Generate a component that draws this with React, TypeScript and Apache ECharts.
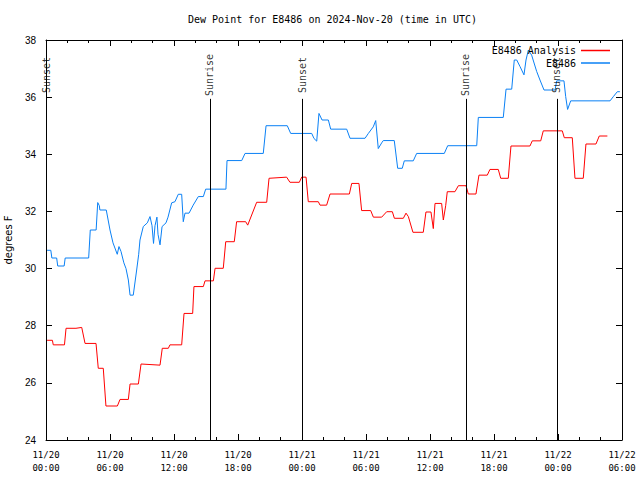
import React, { useEffect, useRef } from "react";
import * as echarts from "echarts";

const chartTitle = "Dew Point for E8486 on 2024-Nov-20 (time in UTC)";
const yAxisName = "degrees F";
const seriesNames = ["E8486 Analysis", "E8486"];

// [hours since 2024-11-20 00:00 UTC, dew point °F]
const analysisPoints: number[][] = [
  [0.1, 27.49], [0.6, 27.49], [0.68, 27.33], [1.73, 27.33], [1.88, 27.91], [2.81, 27.91],
  [3.35, 27.94], [3.66, 27.38], [4.69, 27.38], [4.9, 26.51], [5.37, 26.51], [5.62, 25.19],
  [6.69, 25.19], [6.94, 25.42], [7.72, 25.42], [7.88, 25.96], [8.66, 25.96], [8.91, 26.66],
  [10.69, 26.62], [10.9, 27.21], [11.47, 27.21], [11.62, 27.33], [12.72, 27.33], [12.94, 28.43],
  [13.75, 28.43], [13.87, 29.37], [14.75, 29.37], [14.91, 29.57], [15.69, 29.57], [15.85, 30.01],
  [16.62, 30.01], [16.85, 30.94], [17.65, 30.94], [17.87, 31.64], [18.72, 31.64], [18.91, 31.52],
  [19.75, 32.32], [20.69, 32.32], [20.91, 33.16], [22.56, 33.2], [22.87, 33.02], [23.75, 33.02],
  [23.97, 33.2], [24.38, 33.2], [24.59, 32.34], [25.53, 32.34], [25.69, 32.22], [26.31, 32.22],
  [26.63, 32.61], [28.44, 32.61], [28.66, 32.98], [29.34, 32.98], [29.59, 32.03], [30.44, 32.03],
  [30.69, 31.8], [31.47, 31.8], [31.94, 31.99], [32.47, 31.99], [32.66, 31.76], [33.5, 31.76],
  [33.75, 31.94], [33.97, 31.82], [34.4, 31.27], [35.37, 31.27], [35.62, 31.98], [36.09, 31.98],
  [36.31, 31.4], [36.47, 32.28], [37.09, 32.28], [37.25, 31.7], [37.47, 32.2], [37.62, 32.69],
  [38.34, 32.69], [38.66, 32.9], [39.38, 32.9], [39.59, 32.61], [40.31, 32.61], [40.59, 33.27],
  [41.37, 33.27], [41.62, 33.47], [42.4, 33.47], [42.63, 33.16], [43.34, 33.16], [43.59, 34.29],
  [45.37, 34.29], [45.59, 34.47], [46.38, 34.47], [46.62, 34.82], [48.4, 34.82], [48.59, 34.58],
  [49.34, 34.58], [49.59, 33.16], [50.37, 33.16], [50.62, 34.36], [51.56, 34.36], [51.87, 34.64],
  [52.63, 34.64],
];

const stationPoints: number[][] = [
  [0.1, 30.64], [0.45, 30.64], [0.55, 30.37], [1.0, 30.37], [1.1, 30.09], [1.7, 30.09],
  [1.8, 30.37], [4.0, 30.37], [4.15, 31.35], [4.7, 31.35], [4.85, 32.31], [5.0, 32.2],
  [5.05, 32.05], [5.65, 32.05], [6.0, 31.35], [6.28, 30.9], [6.68, 30.5], [6.84, 30.77],
  [7.03, 30.6], [7.3, 30.2], [7.5, 30.0], [7.72, 29.6], [7.88, 29.07], [8.18, 29.07],
  [8.5, 29.95], [8.69, 30.5], [8.81, 31.0], [9.12, 31.47], [9.5, 31.6], [9.75, 31.82],
  [9.94, 31.5], [10.08, 30.88], [10.22, 31.5], [10.4, 31.8], [10.5, 31.2], [10.69, 30.83],
  [10.88, 31.47], [11.25, 31.6], [11.44, 31.8], [11.78, 32.3], [12.09, 32.34], [12.4, 32.6],
  [12.72, 32.6], [12.87, 31.64], [13.03, 31.94], [13.41, 31.94], [13.8, 32.22], [14.28, 32.52],
  [14.75, 32.52], [14.97, 32.78], [16.87, 32.78], [16.97, 33.78], [18.35, 33.78], [18.66, 34.03],
  [20.37, 34.03], [20.63, 35.0], [22.62, 35.0], [22.94, 34.73], [24.91, 34.73], [25.13, 34.55],
  [25.38, 34.46], [25.59, 35.43], [25.88, 35.2], [26.47, 35.2], [26.69, 34.88], [28.19, 34.88],
  [28.5, 34.56], [29.91, 34.56], [30.22, 34.73], [30.68, 34.96], [30.91, 35.18], [31.15, 34.2],
  [31.47, 34.4], [31.62, 34.48], [32.65, 34.48], [32.97, 33.51], [33.4, 33.51], [33.59, 33.77],
  [34.43, 33.77], [34.75, 34.03], [37.34, 34.03], [37.66, 34.3], [40.38, 34.3], [40.53, 35.29],
  [42.87, 35.29], [43.13, 36.28], [43.66, 36.28], [43.9, 37.3], [44.13, 37.3], [44.44, 37.07],
  [44.81, 36.78], [45.0, 37.3], [45.22, 37.65], [45.53, 37.47], [46.0, 36.9], [46.31, 36.6],
  [46.69, 36.25], [47.72, 36.25], [47.88, 36.57], [48.56, 36.57], [48.72, 36.02], [48.9, 35.57],
  [49.19, 35.87], [52.88, 35.87], [53.19, 36.02], [53.56, 36.19], [53.8, 36.19],
];

const sunEventNames = ["Sunset", "Sunrise", "Sunset", "Sunrise", "Sunset"];
const sunEventHours = [0, 15.37, 24.0, 39.37, 47.9];

const xMin = 0;
const xMax = 54;
const xStep = 6;
const yMin = 24;
const yMax = 38;
const yStep = 2;
const sunLineTop = 35.94;
const sunLabelCenter = 36.74;

const mono = "DejaVu Sans Mono";
const sans = "DejaVu Sans";

function hourLabel(h: number): string {
  const day = 20 + Math.floor(h / 24);
  const hh = Math.round(h % 24);
  const pad = (n: number) => (n < 10 ? "0" + n : "" + n);
  return `11/${pad(day)}\n${pad(hh)}:00`;
}

export default function App() {
  const ref = useRef<HTMLDivElement>(null);
  useEffect(() => {
    document.body.style.margin = "0";
    if (!ref.current) return;
    const chart = echarts.init(ref.current, null, { renderer: "svg" });
    const axisLine = { show: true, onZero: false, lineStyle: { color: "#000", width: 1 } };
    chart.setOption({
      animation: false,
      backgroundColor: "#fff",
      title: {
        text: chartTitle,
        left: 183,
        top: 9,
        textStyle: { fontFamily: mono, fontSize: 10, fontWeight: "normal", color: "#000" },
      },
      legend: [
        {
          data: [{ name: seriesNames[0] }],
          right: 25,
          top: 40.5,
          align: "right",
          icon: "rect",
          itemWidth: 29,
          itemHeight: 1.5,
          textStyle: { fontFamily: mono, fontSize: 10, color: "#000" },
        },
        {
          data: [{ name: seriesNames[1] }],
          right: 25,
          top: 53,
          align: "right",
          icon: "rect",
          itemWidth: 29,
          itemHeight: 1.5,
          textStyle: { fontFamily: mono, fontSize: 10, color: "#000" },
        },
      ],
      grid: { left: 46, right: 18, top: 40, bottom: 40, outerBoundsMode: "none", containLabel: false },
      xAxis: [
        {
          type: "value",
          min: xMin,
          max: xMax,
          interval: xStep,
          axisLine,
          axisTick: { show: true, inside: true, length: 6, lineStyle: { color: "#000" } },
          minorTick: { show: true, splitNumber: 3, length: 3, lineStyle: { color: "#000" } },
          splitLine: { show: false },
          axisLabel: {
            formatter: (v: number) => hourLabel(v),
            fontFamily: mono,
            fontSize: 9,
            color: "#000",
            margin: 8,
            lineHeight: 13,
          },
        },
        {
          type: "value",
          position: "top",
          min: xMin,
          max: xMax,
          interval: xStep,
          axisLine,
          axisTick: { show: true, inside: true, length: 6, lineStyle: { color: "#000" } },
          minorTick: { show: true, splitNumber: 3, length: 3, lineStyle: { color: "#000" } },
          splitLine: { show: false },
          axisLabel: { show: false },
        },
      ],
      yAxis: [
        {
          type: "value",
          min: yMin,
          max: yMax,
          interval: yStep,
          name: yAxisName,
          nameLocation: "middle",
          nameRotate: 90,
          nameGap: 31,
          nameTextStyle: { fontFamily: sans, fontSize: 10, color: "#000" },
          axisLine,
          axisTick: { show: true, inside: true, length: 6, lineStyle: { color: "#000" } },
          splitLine: { show: false },
          axisLabel: { fontFamily: "Liberation Sans", fontSize: 10, color: "#000", margin: 10 },
        },
        {
          type: "value",
          position: "right",
          min: yMin,
          max: yMax,
          interval: yStep,
          axisLine,
          axisTick: { show: true, inside: true, length: 6, lineStyle: { color: "#000" } },
          splitLine: { show: false },
          axisLabel: { show: false },
        },
      ],
      series: [
        {
          name: seriesNames[0],
          type: "line",
          data: analysisPoints,
          showSymbol: false,
          symbol: "none",
          color: "#ff0000",
          lineStyle: { color: "#ff0000", width: 1 },
          z: 3,
          markLine: {
            silent: true,
            symbol: "none",
            label: { show: false },
            lineStyle: { color: "#000", width: 1, type: "solid" },
            data: sunEventHours.map((h) => [
              { coord: [h, sunLineTop] },
              { coord: [h, yMin] },
            ]),
          },
        },
        {
          name: seriesNames[1],
          type: "line",
          data: stationPoints,
          showSymbol: false,
          symbol: "none",
          color: "#0a80f5",
          lineStyle: { color: "#0a80f5", width: 1 },
          z: 3,
        },
        {
          name: "sun",
          type: "scatter",
          symbolSize: 0,
          silent: true,
          clip: false,
          data: sunEventHours.map((h, i) => ({ value: [h, sunLabelCenter], name: sunEventNames[i] })),
          label: {
            show: true,
            position: "inside",
            rotate: 90,
            formatter: "{b}",
            fontFamily: mono,
            fontSize: 10,
            color: "#000",
            offset: [1, 0],
          },
          z: 4,
        },
      ],
    });
    return () => chart.dispose();
  }, []);
  return <div ref={ref} style={{ width: 640, height: 480 }} />;
}
